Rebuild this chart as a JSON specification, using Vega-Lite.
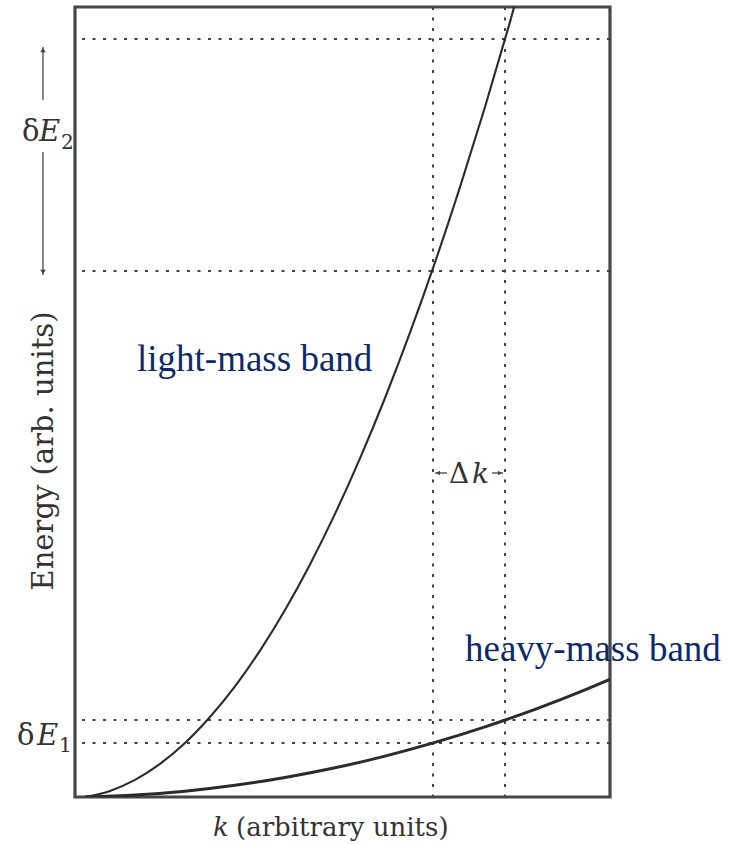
{
  "$schema": "https://vega.github.io/schema/vega-lite/v6.json",
  "width": 535,
  "height": 790,
  "autosize": {"type": "none"},
  "padding": {"left": 75, "top": 7, "right": 127, "bottom": 47},
  "background": "white",
  "config": {"view": {"stroke": "#474747", "strokeWidth": 3.2}},
  "datasets": {
    "hlines": [{"E": 7.58}, {"E": 5.26}, {"E": 0.77}, {"E": 0.54}],
    "vlines": [{"k": 3.48}, {"k": 4.2}],
    "light": [
      {"k": 0, "E": 0},
      {"k": 0.25, "E": 0.061},
      {"k": 0.5, "E": 0.171},
      {"k": 0.75, "E": 0.331},
      {"k": 1.0, "E": 0.54},
      {"k": 1.25, "E": 0.8},
      {"k": 1.5, "E": 1.106},
      {"k": 1.75, "E": 1.464},
      {"k": 2.0, "E": 1.87},
      {"k": 2.25, "E": 2.326},
      {"k": 2.5, "E": 2.831},
      {"k": 2.75, "E": 3.386},
      {"k": 3.0, "E": 3.99},
      {"k": 3.25, "E": 4.643},
      {"k": 3.5, "E": 5.346},
      {"k": 3.75, "E": 6.099},
      {"k": 4.0, "E": 6.9},
      {"k": 4.25, "E": 7.751},
      {"k": 4.5, "E": 8.65}
    ],
    "heavy": [
      {"k": 0, "E": 0},
      {"k": 0.5, "E": 0.019},
      {"k": 1.0, "E": 0.058},
      {"k": 1.5, "E": 0.117},
      {"k": 2.0, "E": 0.195},
      {"k": 2.5, "E": 0.292},
      {"k": 3.0, "E": 0.409},
      {"k": 3.5, "E": 0.546},
      {"k": 4.0, "E": 0.702},
      {"k": 4.5, "E": 0.877},
      {"k": 5.0, "E": 1.072},
      {"k": 5.25, "E": 1.177}
    ],
    "bandlabels": [
      {"t": "light-mass band", "k": 0.52, "E": 4.37},
      {"t": "heavy-mass band", "k": 3.8, "E": 1.47}
    ],
    "deltaSym": [
      {"t": "δ", "k": -0.63, "E": 6.56},
      {"t": "δ", "k": -0.68, "E": 0.52}
    ],
    "deltaE": [
      {"t": "E", "k": -0.46, "E": 6.56},
      {"t": "E", "k": -0.48, "E": 0.52}
    ],
    "deltaSub": [
      {"t": "2", "k": -0.24, "E": 6.48},
      {"t": "1", "k": -0.26, "E": 0.45}
    ],
    "arrowLines": [
      {"k": -0.42, "E": 7.5, "E2": 6.97},
      {"k": -0.42, "E": 6.45, "E2": 5.22},
      {"k": 3.5, "k2": 3.62, "E": 3.24},
      {"k": 4.07, "k2": 4.18, "E": 3.24}
    ],
    "headUp": [{"k": -0.42, "E": 7.47}],
    "headDown": [{"k": -0.42, "E": 5.25}],
    "headLeft": [{"k": 3.53, "E": 3.24}],
    "headRight": [{"k": 4.15, "E": 3.24}],
    "dkDelta": [{"t": "Δ", "k": 3.64, "E": 3.14}],
    "dkK": [{"t": "k", "k": 3.87, "E": 3.14}],
    "yTitle": [{"t": "Energy (arb. units)", "k": -0.41, "E": 3.46}],
    "xTitleK": [{"t": "k", "k": 1.28, "E": -0.39}],
    "xTitleRest": [{"t": "(arbitrary units)", "k": 1.51, "E": -0.39}]
  },
  "layer": [
    {
      "data": {"name": "hlines"},
      "mark": {"type": "rule", "color": "#444", "strokeWidth": 2, "strokeDash": [3, 7.5]},
      "encoding": {
        "y": {"field": "E", "type": "quantitative", "scale": {"domain": [0, 7.9], "nice": false, "zero": false}, "axis": null}
      }
    },
    {
      "data": {"name": "vlines"},
      "mark": {"type": "rule", "color": "#444", "strokeWidth": 2, "strokeDash": [3, 7.5]},
      "encoding": {
        "x": {"field": "k", "type": "quantitative", "scale": {"domain": [-0.1, 5.25], "nice": false, "zero": false}, "axis": null}
      }
    },
    {
      "data": {"name": "light"},
      "mark": {"type": "line", "color": "#2b2b2b", "strokeWidth": 2.1, "clip": true, "interpolate": "monotone"},
      "encoding": {
        "x": {"field": "k", "type": "quantitative", "scale": {"domain": [-0.1, 5.25], "nice": false, "zero": false}, "axis": null},
        "y": {"field": "E", "type": "quantitative", "scale": {"domain": [0, 7.9], "nice": false, "zero": false}, "axis": null}
      }
    },
    {
      "data": {"name": "heavy"},
      "mark": {"type": "line", "color": "#2b2b2b", "strokeWidth": 3, "clip": true, "interpolate": "monotone"},
      "encoding": {
        "x": {"field": "k", "type": "quantitative"},
        "y": {"field": "E", "type": "quantitative"}
      }
    },
    {
      "data": {"name": "arrowLines"},
      "mark": {"type": "rule", "color": "#444", "strokeWidth": 1.3},
      "encoding": {
        "x": {"field": "k", "type": "quantitative"},
        "x2": {"field": "k2"},
        "y": {"field": "E", "type": "quantitative"},
        "y2": {"field": "E2"}
      }
    },
    {
      "data": {"name": "headUp"},
      "mark": {"type": "point", "shape": "triangle-up", "filled": true, "size": 30, "color": "#444", "opacity": 1},
      "encoding": {"x": {"field": "k", "type": "quantitative"}, "y": {"field": "E", "type": "quantitative"}}
    },
    {
      "data": {"name": "headDown"},
      "mark": {"type": "point", "shape": "triangle-down", "filled": true, "size": 30, "color": "#444", "opacity": 1},
      "encoding": {"x": {"field": "k", "type": "quantitative"}, "y": {"field": "E", "type": "quantitative"}}
    },
    {
      "data": {"name": "headLeft"},
      "mark": {"type": "point", "shape": "triangle-left", "filled": true, "size": 22, "color": "#444", "opacity": 1},
      "encoding": {"x": {"field": "k", "type": "quantitative"}, "y": {"field": "E", "type": "quantitative"}}
    },
    {
      "data": {"name": "headRight"},
      "mark": {"type": "point", "shape": "triangle-right", "filled": true, "size": 22, "color": "#444", "opacity": 1},
      "encoding": {"x": {"field": "k", "type": "quantitative"}, "y": {"field": "E", "type": "quantitative"}}
    },
    {
      "data": {"name": "bandlabels"},
      "mark": {"type": "text", "font": "Liberation Serif", "fontSize": 37, "color": "#0c2a6b", "align": "left", "baseline": "middle"},
      "encoding": {"x": {"field": "k", "type": "quantitative"}, "y": {"field": "E", "type": "quantitative"}, "text": {"field": "t"}}
    },
    {
      "data": {"name": "deltaSym"},
      "mark": {"type": "text", "font": "DejaVu Serif", "fontSize": 29, "color": "#333", "align": "left", "baseline": "alphabetic"},
      "encoding": {"x": {"field": "k", "type": "quantitative"}, "y": {"field": "E", "type": "quantitative"}, "text": {"field": "t"}}
    },
    {
      "data": {"name": "deltaE"},
      "mark": {"type": "text", "font": "DejaVu Serif", "fontStyle": "italic", "fontSize": 29, "color": "#333", "align": "left", "baseline": "alphabetic"},
      "encoding": {"x": {"field": "k", "type": "quantitative"}, "y": {"field": "E", "type": "quantitative"}, "text": {"field": "t"}}
    },
    {
      "data": {"name": "deltaSub"},
      "mark": {"type": "text", "font": "DejaVu Serif", "fontSize": 20, "color": "#333", "align": "left", "baseline": "alphabetic"},
      "encoding": {"x": {"field": "k", "type": "quantitative"}, "y": {"field": "E", "type": "quantitative"}, "text": {"field": "t"}}
    },
    {
      "data": {"name": "dkDelta"},
      "mark": {"type": "text", "font": "DejaVu Serif", "fontSize": 28, "color": "#333", "align": "left", "baseline": "alphabetic"},
      "encoding": {"x": {"field": "k", "type": "quantitative"}, "y": {"field": "E", "type": "quantitative"}, "text": {"field": "t"}}
    },
    {
      "data": {"name": "dkK"},
      "mark": {"type": "text", "font": "DejaVu Serif", "fontStyle": "italic", "fontSize": 28, "color": "#333", "align": "left", "baseline": "alphabetic"},
      "encoding": {"x": {"field": "k", "type": "quantitative"}, "y": {"field": "E", "type": "quantitative"}, "text": {"field": "t"}}
    },
    {
      "data": {"name": "yTitle"},
      "mark": {"type": "text", "font": "DejaVu Serif", "fontSize": 29, "color": "#333", "align": "center", "baseline": "middle", "angle": 270},
      "encoding": {"x": {"field": "k", "type": "quantitative"}, "y": {"field": "E", "type": "quantitative"}, "text": {"field": "t"}}
    },
    {
      "data": {"name": "xTitleK"},
      "mark": {"type": "text", "font": "DejaVu Serif", "fontStyle": "italic", "fontSize": 26, "color": "#333", "align": "left", "baseline": "alphabetic"},
      "encoding": {"x": {"field": "k", "type": "quantitative"}, "y": {"field": "E", "type": "quantitative"}, "text": {"field": "t"}}
    },
    {
      "data": {"name": "xTitleRest"},
      "mark": {"type": "text", "font": "DejaVu Serif", "fontSize": 26, "color": "#333", "align": "left", "baseline": "alphabetic"},
      "encoding": {"x": {"field": "k", "type": "quantitative"}, "y": {"field": "E", "type": "quantitative"}, "text": {"field": "t"}}
    }
  ]
}
